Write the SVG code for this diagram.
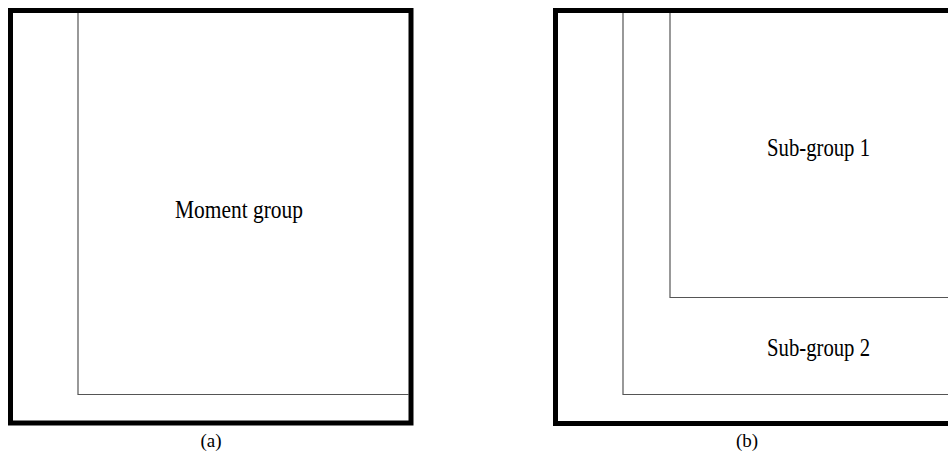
<svg xmlns="http://www.w3.org/2000/svg" width="948" height="461" viewBox="0 0 948 461">
<style>
.outer{fill:none;stroke:#000;stroke-width:5}
.inner{fill:none;stroke:#555;stroke-width:1.2}
.lbl{font-family:"Liberation Serif","Times New Roman",serif;font-size:25px;fill:#000}
.cap{font-family:"Liberation Serif","Times New Roman",serif;font-size:19px;fill:#000;text-anchor:middle}
</style>
<rect width="948" height="461" fill="#fff"/>
<g id="panel-a">
<rect class="outer" x="10.5" y="10.5" width="400.5" height="412.5"/>
<g id="moment-group">
<polyline class="inner" points="78,13 78,394.5 409,394.5"/>
<text class="lbl" x="175" y="218" textLength="128" lengthAdjust="spacingAndGlyphs">Moment group</text>
</g>
<text class="cap" x="211" y="447">(a)</text>
</g>
<g id="panel-b">
<rect class="outer" x="555.5" y="10.5" width="400" height="413"/>
<g id="sub-group-2">
<polyline class="inner" points="623,13 623,394.5 948,394.5"/>
<text class="lbl" x="767" y="356" textLength="103" lengthAdjust="spacingAndGlyphs">Sub-group 2</text>
</g>
<g id="sub-group-1">
<polyline class="inner" points="670,13 670,297.5 948,297.5"/>
<text class="lbl" x="767" y="156" textLength="103" lengthAdjust="spacingAndGlyphs">Sub-group 1</text>
</g>
<text class="cap" x="747" y="447">(b)</text>
</g>
</svg>
